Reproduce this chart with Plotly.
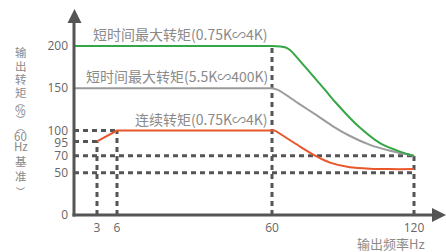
import plotly.graph_objects as go

# ---------------- data (schematic positions) ----------------
# x positions on the drawn (non-linear) frequency axis, with their labels
freq_pos = [23, 43, 198, 340]
freq_labels = ["3", "6", "60", "120"]

# y tick positions and labels (the "95" level is drawn lower than true scale)
torque_ticks = [0, 50, 70, 85, 100, 150, 200]
torque_labels = ["0", "50", "70", "95", "100", "150", "200"]

# short-time max torque (0.75K~4K): flat part, then decay
green_flat_x = [0, 198]
green_flat_y = [200, 200]
green_x = [198, 211, 216, 231, 251, 261, 271, 283, 306, 326, 340]
green_y = [200, 198.5, 195.3, 175.5, 148, 134, 121, 106.5, 85, 75, 70]

# short-time max torque (5.5K~400K)
gray_flat_x = [0, 198]
gray_flat_y = [150, 150]
gray_x = [198, 204, 224, 244, 259, 276, 296, 316, 340]
gray_y = [150, 148, 132.5, 117, 105, 93.5, 83, 76, 70]

# continuous torque (0.75K~4K)
orange_flat_x = [23, 43, 201]
orange_flat_y = [87, 100, 100]
orange_x = [201, 226, 243, 256, 276, 296, 316, 340]
orange_y = [100, 81, 69, 62, 56.5, 54.8, 54.3, 54.3]

labels = ["短时间最大转矩(0.75K∽4K)", "短时间最大转矩(5.5K∽400K)", "连续转矩(0.75K∽4K)"]
label_levels = [200, 150, 100]

# dashed guide lines: (x0, y0, x1, y1)
guides_h = [(0, 100, 43, 100), (0, 87, 23, 87), (0, 70, 340, 70), (0, 50, 340, 50)]
guides_v = [(23, 0, 23, 87), (43, 0, 43, 100), (198, 0, 198, 200), (340, 0, 340, 70)]

ytitle_chars = ["输", "出", "转", "矩", "︵", "%", "︶", "︵", "60", "Hz", "基", "准", "︶"]

# ---------------- layout constants ----------------
W, H = 446, 252
ML, MB = 74, 37
PW, PH = W - ML, H - MB
PXU = 0.845  # px per torque unit
YMAX = PH / PXU

FONT = "Open Sans, Noto Sans CJK SC, sans-serif"
CJK = "Noto Sans CJK SC, sans-serif"
AX = "#555555"

fig = go.Figure()

for (x0, y0, x1, y1) in guides_h + guides_v:
    fig.add_trace(go.Scatter(x=[x0, x1], y=[y0, y1], mode="lines",
                             line=dict(color=AX, width=3, dash="5px,4px"),
                             hoverinfo="skip", showlegend=False))

for fx, fy, xs, ys, col in [(gray_flat_x, gray_flat_y, gray_x, gray_y, "#9b9b9b"),
                            (green_flat_x, green_flat_y, green_x, green_y, "#35a646"),
                            (orange_flat_x, orange_flat_y, orange_x, orange_y, "#e8562a")]:
    fig.add_trace(go.Scatter(x=fx, y=fy, mode="lines",
                             line=dict(color=col, width=2),
                             hoverinfo="skip", showlegend=False))
    fig.add_trace(go.Scatter(x=xs, y=ys, mode="lines",
                             line=dict(color=col, width=2, shape="spline", smoothing=0.7),
                             hoverinfo="skip", showlegend=False))


def px(xp):
    return (xp - ML) / PW


def py(yp):
    return (PH - yp) / PH


shapes = []
# axes lines
shapes.append(dict(type="line", xref="paper", yref="paper", x0=0, x1=0,
                   y0=-1.5 / PH, y1=py(22), line=dict(color=AX, width=3)))
shapes.append(dict(type="line", xref="paper", yref="paper", x0=-1.5 / PW, x1=px(433),
                   y0=0, y1=0, line=dict(color=AX, width=3)))
# arrow heads
shapes.append(dict(type="path", xref="paper", yref="paper",
                   path=f"M {px(67.5)} {py(23)} L {px(74.5)} {py(9)} L {px(81.5)} {py(23)} Z",
                   fillcolor=AX, line=dict(width=0)))
shapes.append(dict(type="path", xref="paper", yref="paper",
                   path=f"M {px(432)} {py(208)} L {px(446)} {py(215)} L {px(432)} {py(222)} Z",
                   fillcolor=AX, line=dict(width=0)))

annotations = []
for txt, lvl in zip(labels, label_levels):
    annotations.append(dict(x=freq_pos[2] - 2, y=lvl, xref="x", yref="y", text=txt,
                            xanchor="right", yanchor="bottom", yshift=0, showarrow=False,
                            font=dict(family=CJK, size=14, color="#8a8a8a")))
annotations.append(dict(x=px(391), y=py(243), xref="paper", yref="paper", text="输出频率Hz",
                        xanchor="center", yanchor="middle", showarrow=False,
                        font=dict(family=CJK, size=13, color="#8a8a8a")))
title_py = [51.7, 65.7, 79, 92.3, 102, 110, 119.5, 127.5, 136, 146, 160.7, 176, 191]
for ch, yp in zip(ytitle_chars, title_py):
    small = ch in ("︵", "︶")
    annotations.append(dict(x=px(21), y=py(yp), xref="paper", yref="paper", text=ch,
                            xanchor="center", yanchor="middle", showarrow=False,
                            borderpad=0,
                            font=dict(family=CJK, size=9 if small else 11.5, color="#8a8a8a")))

fig.update_layout(
    width=W, height=H,
    margin=dict(l=ML, r=0, t=0, b=MB, pad=0),
    paper_bgcolor="white", plot_bgcolor="white",
    shapes=shapes, annotations=annotations,
    xaxis=dict(range=[0, PW], tickvals=freq_pos, ticktext=freq_labels,
               showgrid=False, zeroline=False, showline=False, ticks="",
               ticklabelstandoff=4,
               tickfont=dict(family=FONT, size=12, color="#666666"), fixedrange=True),
    yaxis=dict(range=[0, YMAX], tickvals=torque_ticks, ticktext=torque_labels,
               showgrid=False, zeroline=False, showline=False, ticks="",
               ticklabelstandoff=5,
               tickfont=dict(family=FONT, size=12, color="#666666"), fixedrange=True),
    showlegend=False,
)

fig.write_html("out.html", config={"displayModeBar": False},
               post_script="document.body.style.margin='0';document.body.style.overflow='hidden';")
